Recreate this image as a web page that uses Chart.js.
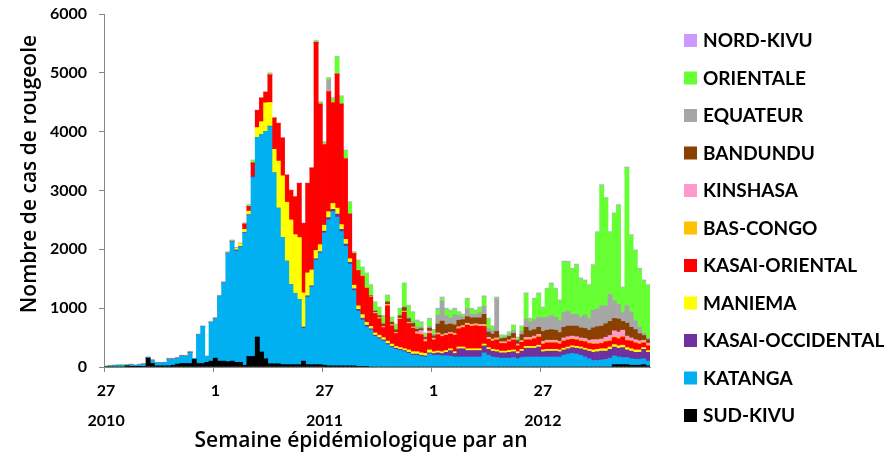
<!DOCTYPE html>
<html>
<head>
<meta charset="utf-8">
<script src="https://cdn.jsdelivr.net/npm/chart.js@4.4.1/dist/chart.umd.min.js"></script>
<style>
  body { margin: 0; background: #fff; }
  canvas { display: block; }
</style>
</head>
<body>
<canvas id="chart" width="894" height="456"></canvas>
<script>
// epidemiological weeks: 2010 w27-52, 2011 w1-52, 2012 w1-52
const weeks = [
  27,28,29,30,31,32,33,34,35,36,37,38,39,40,41,42,43,44,45,46,47,48,49,50,51,52,
  1,2,3,4,5,6,7,8,9,10,11,12,13,14,15,16,17,18,19,20,21,22,23,24,25,26,
  27,28,29,30,31,32,33,34,35,36,37,38,39,40,41,42,43,44,45,46,47,48,49,50,51,52,
  1,2,3,4,5,6,7,8,9,10,11,12,13,14,15,16,17,18,19,20,21,22,23,24,25,26,
  27,28,29,30,31,32,33,34,35,36,37,38,39,40,41,42,43,44,45,46,47,48,49,50,51,52
];
const yearAt = { 0: "2010", 52: "2011", 104: "2012" };

const sudKivu = [
  0,0,0,0,0,20,5,5,5,10,150,60,20,20,20,20,30,50,60,60,60,130,60,60,80,100,
  150,100,100,90,100,80,80,30,180,180,510,255,140,55,55,55,40,40,40,40,40,100,40,40,40,40,
  30,20,20,20,20,20,20,20,10,10,10,0,0,0,0,0,0,0,0,0,0,0,0,0,0,0,
  0,0,0,0,0,0,0,0,0,0,0,0,0,0,0,0,0,0,0,0,0,0,0,0,0,0,
  0,0,0,0,0,0,0,0,0,0,0,0,0,0,0,0,0,40,40,40,40,30,30,30,40,20
];
const katanga = [
  10,15,20,25,25,10,30,20,30,35,15,55,50,50,55,115,105,100,130,125,180,15,490,630,100,660,
  670,1100,1330,1840,2030,1890,1960,2250,2400,3040,3390,3695,3860,4030,3245,2645,2160,1760,1360,1210,1110,560,1150,1320,1780,1900,
  2250,2480,2620,2530,2280,2030,1730,1280,940,790,670,630,520,480,440,380,330,300,280,260,230,200,200,180,170,220,
  200,200,190,190,180,170,170,170,170,170,170,170,240,200,170,160,150,150,150,160,140,160,170,170,170,170,
  170,170,170,170,170,200,220,230,220,200,170,140,110,110,120,130,150,150,130,120,120,110,100,100,100,80
];
const kasaiOccidental = [
  0,0,0,0,0,0,0,0,0,0,0,0,0,0,0,0,0,0,0,0,5,0,0,0,0,0,
  0,0,0,0,0,20,10,10,10,20,0,0,0,10,0,0,0,0,0,0,0,20,20,20,20,20,
  30,40,40,50,40,40,30,30,30,30,30,20,20,20,20,20,20,20,20,20,20,20,20,20,20,20,
  30,40,40,60,100,60,140,140,110,110,110,110,120,100,100,100,90,90,100,100,90,110,150,150,150,170,
  90,100,100,100,90,90,90,100,100,110,120,130,140,150,150,140,150,150,150,170,130,130,120,120,160,150
];
const maniema = [
  0,0,0,0,0,0,0,0,0,0,0,0,0,0,0,0,0,0,0,0,0,0,0,0,0,0,
  0,0,0,0,0,30,50,50,60,0,170,220,490,400,400,800,1050,1000,1100,1000,1050,580,390,270,140,120,
  100,100,100,100,80,80,60,60,60,60,50,40,40,40,40,40,40,30,30,30,40,40,40,40,40,50,
  30,30,30,30,30,30,30,30,30,30,30,30,30,30,30,30,30,30,30,30,30,30,30,30,30,30,
  30,30,30,30,30,30,30,30,30,30,30,30,40,40,40,40,40,40,40,40,40,40,40,40,30,30
];
const kasaiOriental = [
  0,0,0,0,0,0,0,0,0,0,0,0,0,0,0,0,0,0,0,0,0,0,0,0,0,0,
  0,0,0,0,0,0,0,90,80,230,290,400,180,470,530,640,640,460,500,640,920,1180,1520,1730,3540,2390,
  1370,2040,1710,2280,2050,1370,760,540,600,650,580,500,330,280,170,600,310,220,480,620,450,400,300,310,200,280,
  200,280,260,260,250,280,310,330,400,380,390,380,300,140,140,170,130,130,150,170,100,120,110,110,130,140,
  100,110,110,110,100,120,120,110,110,100,110,100,100,90,90,120,100,120,120,140,120,130,120,100,80,80
];
const basCongo = [
  0,0,0,0,0,0,0,0,0,0,0,0,0,0,0,0,0,0,0,0,0,0,0,0,0,0,
  0,0,0,0,0,0,0,0,0,0,0,0,0,0,0,0,0,0,0,0,0,0,0,0,0,0,
  0,0,0,0,0,0,0,0,0,10,10,10,10,10,10,15,10,10,10,10,10,10,10,10,10,10,
  10,10,10,10,10,15,15,15,15,15,15,15,15,15,15,15,10,10,10,10,10,10,15,15,15,15,
  15,15,15,15,15,15,15,15,15,15,15,15,15,15,15,15,15,15,15,15,15,15,15,15,15,15
];
const kinshasa = [
  0,0,0,0,0,0,5,5,10,10,0,0,0,0,0,10,10,5,5,10,10,0,0,0,0,0,
  10,10,10,10,10,0,0,0,0,0,0,0,0,0,0,0,0,0,0,0,0,0,0,0,0,0,
  0,0,0,0,0,0,0,0,0,0,0,0,10,10,10,10,10,10,10,10,10,10,30,60,30,30,
  20,20,20,20,20,20,20,20,20,20,20,20,20,20,20,20,20,20,20,20,20,20,30,30,30,30,
  30,30,30,30,30,40,40,40,40,40,40,40,60,60,60,60,80,100,100,100,60,40,40,40,30,30
];
const bandundu = [
  0,0,0,0,0,0,0,0,0,0,0,0,0,0,0,0,0,0,0,0,0,0,0,0,0,0,
  0,0,0,0,0,0,0,0,0,0,0,0,0,0,0,0,0,0,0,0,0,0,0,0,0,0,
  0,0,0,0,0,0,0,0,0,0,0,10,20,30,40,40,40,40,40,60,60,60,40,30,30,50,
  40,150,230,150,140,140,110,100,110,110,100,110,170,90,85,110,50,60,60,80,60,100,170,110,110,120,
  170,170,180,170,150,180,180,170,180,170,170,170,200,220,220,230,240,210,220,150,220,180,170,120,80,60
];
const equateur = [
  0,0,0,0,0,0,0,0,0,0,0,0,0,0,0,0,0,0,0,0,0,0,0,0,0,0,
  0,0,0,0,0,0,0,0,0,0,0,0,0,0,0,0,0,0,0,0,0,0,0,0,0,0,
  0,200,0,0,0,0,0,0,0,0,0,0,10,10,10,10,10,10,10,20,20,30,40,30,20,30,
  30,150,340,150,100,170,80,50,140,60,60,90,140,60,60,550,20,20,30,50,20,60,140,150,170,170,
  230,220,240,220,200,250,250,200,200,180,230,200,300,300,350,300,460,300,250,150,300,260,150,110,40,30
];
const orientale = [
  10,10,10,15,15,5,5,0,0,0,0,0,0,0,0,0,0,0,0,0,0,0,5,0,0,10,
  0,0,0,10,10,0,0,10,20,40,0,0,0,25,0,0,0,0,0,0,0,0,0,0,20,30,
  40,30,80,290,130,140,200,20,170,140,240,180,140,130,130,100,70,80,110,390,200,160,100,70,50,120,
  60,100,50,110,120,100,50,30,160,90,60,80,160,160,65,20,35,25,40,85,30,80,430,50,350,400,
  170,480,540,480,340,860,840,770,840,655,580,560,760,1300,2040,1830,1050,1480,1680,420,2340,1300,1190,990,890,890
];
const nordKivu = [
  0,5,5,5,5,5,5,5,5,5,5,5,5,5,5,5,5,5,5,5,5,5,5,10,10,10,
  10,10,10,10,10,10,10,10,10,10,10,10,10,10,10,10,10,10,10,10,10,10,10,10,10,10,
  10,10,10,10,10,10,10,10,10,10,10,10,10,10,10,10,10,10,10,10,10,10,20,20,10,20,
  20,20,20,20,20,15,15,15,15,15,15,15,15,15,15,15,10,10,10,10,10,10,15,15,15,15,
  15,15,15,15,15,15,15,15,15,15,15,15,15,15,15,15,15,15,15,15,15,15,15,15,15,15
];

// bottom of the stack first
const provinces = [
  { label: "SUD-KIVU", data: sudKivu, color: "#000000" },
  { label: "KATANGA", data: katanga, color: "#00B0F0" },
  { label: "KASAI-OCCIDENTAL", data: kasaiOccidental, color: "#7030A0" },
  { label: "MANIEMA", data: maniema, color: "#FFFF00" },
  { label: "KASAI-ORIENTAL", data: kasaiOriental, color: "#FF0000" },
  { label: "BAS-CONGO", data: basCongo, color: "#FFC000" },
  { label: "KINSHASA", data: kinshasa, color: "#FF99CC" },
  { label: "BANDUNDU", data: bandundu, color: "#8B4000" },
  { label: "EQUATEUR", data: equateur, color: "#A6A6A6" },
  { label: "ORIENTALE", data: orientale, color: "#66FF33" },
  { label: "NORD-KIVU", data: nordKivu, color: "#CC99FF" },
];

const axisGrey = "#868686";
Chart.defaults.font.family = "Lato";
Chart.defaults.color = "#000";

// legend on the right + axis titles, drawn like the Excel original
const sideText = {
  id: "sideText",
  afterDraw(chart) {
    const ctx = chart.ctx;
    ctx.save();
    ctx.textBaseline = "middle";
    ctx.font = "bold 19px Lato";
    const items = chart.data.datasets.slice().reverse();
    items.forEach((ds, i) => {
      const y = 40 + i * 37.5;
      ctx.fillStyle = ds.backgroundColor;
      ctx.fillRect(684, y - 6, 13, 13);
      ctx.fillStyle = "#000";
      ctx.fillText(ds.label, 703, y + 1);
    });

    ctx.font = "600 21px 'Open Sans'";
    ctx.textAlign = "center";
    ctx.fillText("Semaine épidémiologique par an", 361, 441);
    ctx.translate(30, 174);
    ctx.rotate(-Math.PI / 2);
    ctx.fillText("Nombre de cas de rougeole", 0, 0);
    ctx.restore();
  }
};

new Chart(document.getElementById("chart"), {
  type: "bar",
  data: {
    labels: weeks,
    datasets: provinces.map(p => ({
      label: p.label,
      data: p.data,
      backgroundColor: p.color,
      borderWidth: 0,
      barPercentage: 1,
      categoryPercentage: 1,
    })),
  },
  options: {
    responsive: false,
    animation: false,
    layout: { padding: { top: 14, right: 244, left: 0, bottom: 0 } },
    plugins: { legend: { display: false }, tooltip: { enabled: false } },
    scales: {
      x: {
        stacked: true,
        border: { color: axisGrey },
        grid: {
          offset: true,
          drawOnChartArea: false,
          tickLength: 5,
          color: c => (c.index % 26 === 0 ? axisGrey : "rgba(0,0,0,0)"),
        },
        ticks: {
          autoSkip: false,
          maxRotation: 0,
          padding: 4,
          font: { size: 16, weight: "bold", lineHeight: 1.85 },
          callback: (v, i) => {
            if (i % 26 !== 0) return "";
            return yearAt[i] ? [String(weeks[i]), yearAt[i]] : String(weeks[i]);
          },
        },
        afterFit: s => {
          s.height = 89;
          s.paddingLeft = 0;
          s.paddingRight = 0;
        },
      },
      y: {
        stacked: true,
        min: 0,
        max: 6000,
        border: { color: axisGrey },
        grid: { drawOnChartArea: false, tickLength: 5, color: axisGrey },
        ticks: {
          stepSize: 1000,
          padding: 12,
          font: { size: 16, weight: "bold" },
          callback: v => String(v),
        },
        afterFit: s => {
          s.width = 104;
          s.paddingTop = 0;
          s.paddingBottom = 0;
        },
      },
    },
  },
  plugins: [sideText],
});
</script>
</body>
</html>
